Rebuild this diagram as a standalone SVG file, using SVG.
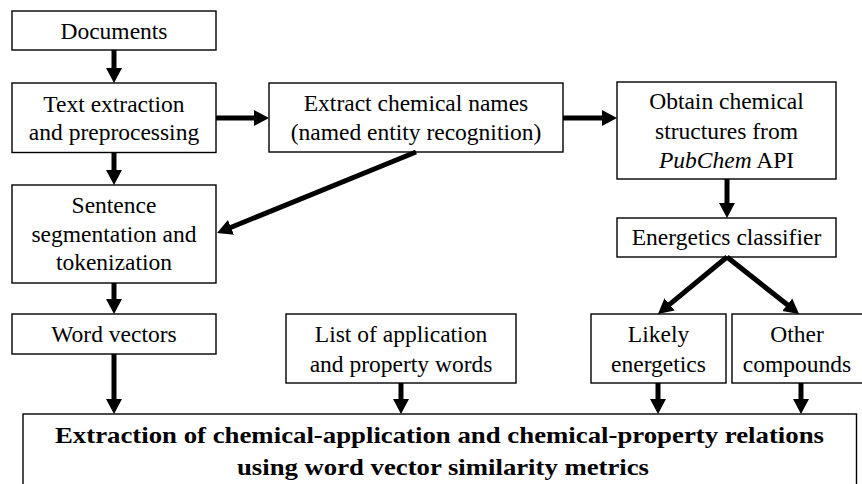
<svg xmlns="http://www.w3.org/2000/svg" width="862" height="484" viewBox="0 0 862 484">
<defs>
<style>
.box{fill:#fff;stroke:#000;stroke-width:1.4}
text{font-family:'Liberation Serif','Times New Roman',serif;fill:#000;text-anchor:middle}
.t{font-size:23.5px}
.b{font-size:24px;font-weight:bold}
.c{stroke:#000;stroke-width:5;fill:none;marker-end:url(#ah)}
</style>
<marker id="ah" markerUnits="userSpaceOnUse" markerWidth="20" markerHeight="20" viewBox="0 -10 20 20" refX="5" refY="0" orient="auto">
<path d="M0,-8 L15,0 L0,8 z" fill="#000"/>
</marker>
</defs>
<rect width="862" height="484" fill="#fff"/>
<g id="documents"><rect class="box" x="12" y="11" width="204" height="39"/><text class="t" x="114" y="39">Documents</text></g>
<g id="text-extraction"><rect class="box" x="12" y="83" width="204" height="69.5"/><text class="t" x="114" y="112">Text extraction</text><text class="t" x="114" y="140">and preprocessing</text></g>
<g id="extract-names"><rect class="box" x="269" y="83" width="294" height="69"/><text class="t" x="416" y="111">Extract chemical names</text><text class="t" x="416" y="140">(named entity recognition)</text></g>
<g id="obtain-structures"><rect class="box" x="617" y="82" width="219" height="97"/><text class="t" x="726.5" y="109">Obtain chemical</text><text class="t" x="726.5" y="139">structures from</text><text class="t" x="726.5" y="168"><tspan font-style="italic">PubChem</tspan> API</text></g>
<g id="energetics-classifier"><rect class="box" x="617" y="218" width="219" height="39"/><text class="t" x="726.5" y="245">Energetics classifier</text></g>
<g id="sentence-seg"><rect class="box" x="12" y="185" width="204" height="98"/><text class="t" x="114" y="213">Sentence</text><text class="t" x="114" y="242">segmentation and</text><text class="t" x="114" y="270">tokenization</text></g>
<g id="word-vectors"><rect class="box" x="12" y="314" width="204" height="40"/><text class="t" x="114" y="342">Word vectors</text></g>
<g id="word-list"><rect class="box" x="286" y="314" width="230" height="69"/><text class="t" x="401" y="342">List of application</text><text class="t" x="401" y="372">and property words</text></g>
<g id="likely-energetics"><rect class="box" x="591" y="314" width="135" height="69"/><text class="t" x="658.5" y="342">Likely</text><text class="t" x="658.5" y="372">energetics</text></g>
<g id="other-compounds"><rect class="box" x="732" y="314" width="132" height="69"/><text class="t" x="797" y="342">Other</text><text class="t" x="797" y="372">compounds</text></g>
<g id="relation-extraction"><rect class="box" x="23" y="414" width="833.5" height="75"/><text class="b" x="439.5" y="443" textLength="769" lengthAdjust="spacingAndGlyphs">Extraction of chemical-application and chemical-property relations</text><text class="b" x="443" y="475" textLength="412" lengthAdjust="spacingAndGlyphs">using word vector similarity metrics</text></g>
<g id="connectors">
<line class="c" x1="114" y1="50" x2="114" y2="73"/>
<line class="c" x1="216" y1="118" x2="259" y2="118"/>
<line class="c" x1="563" y1="118" x2="607" y2="118"/>
<line class="c" x1="114" y1="152.5" x2="114" y2="175"/>
<line class="c" x1="416" y1="152" x2="226.3" y2="229.2"/>
<line class="c" x1="727" y1="179" x2="727" y2="208"/>
<line class="c" x1="727" y1="257" x2="665.7" y2="307.6"/>
<line class="c" x1="727" y1="257" x2="791.2" y2="307.8"/>
<line class="c" x1="114" y1="283" x2="114" y2="304"/>
<line class="c" x1="114" y1="354" x2="114" y2="404"/>
<line class="c" x1="401" y1="383" x2="401" y2="404"/>
<line class="c" x1="658" y1="383" x2="658" y2="404"/>
<line class="c" x1="801" y1="383" x2="801" y2="404"/>
</g>
</svg>
